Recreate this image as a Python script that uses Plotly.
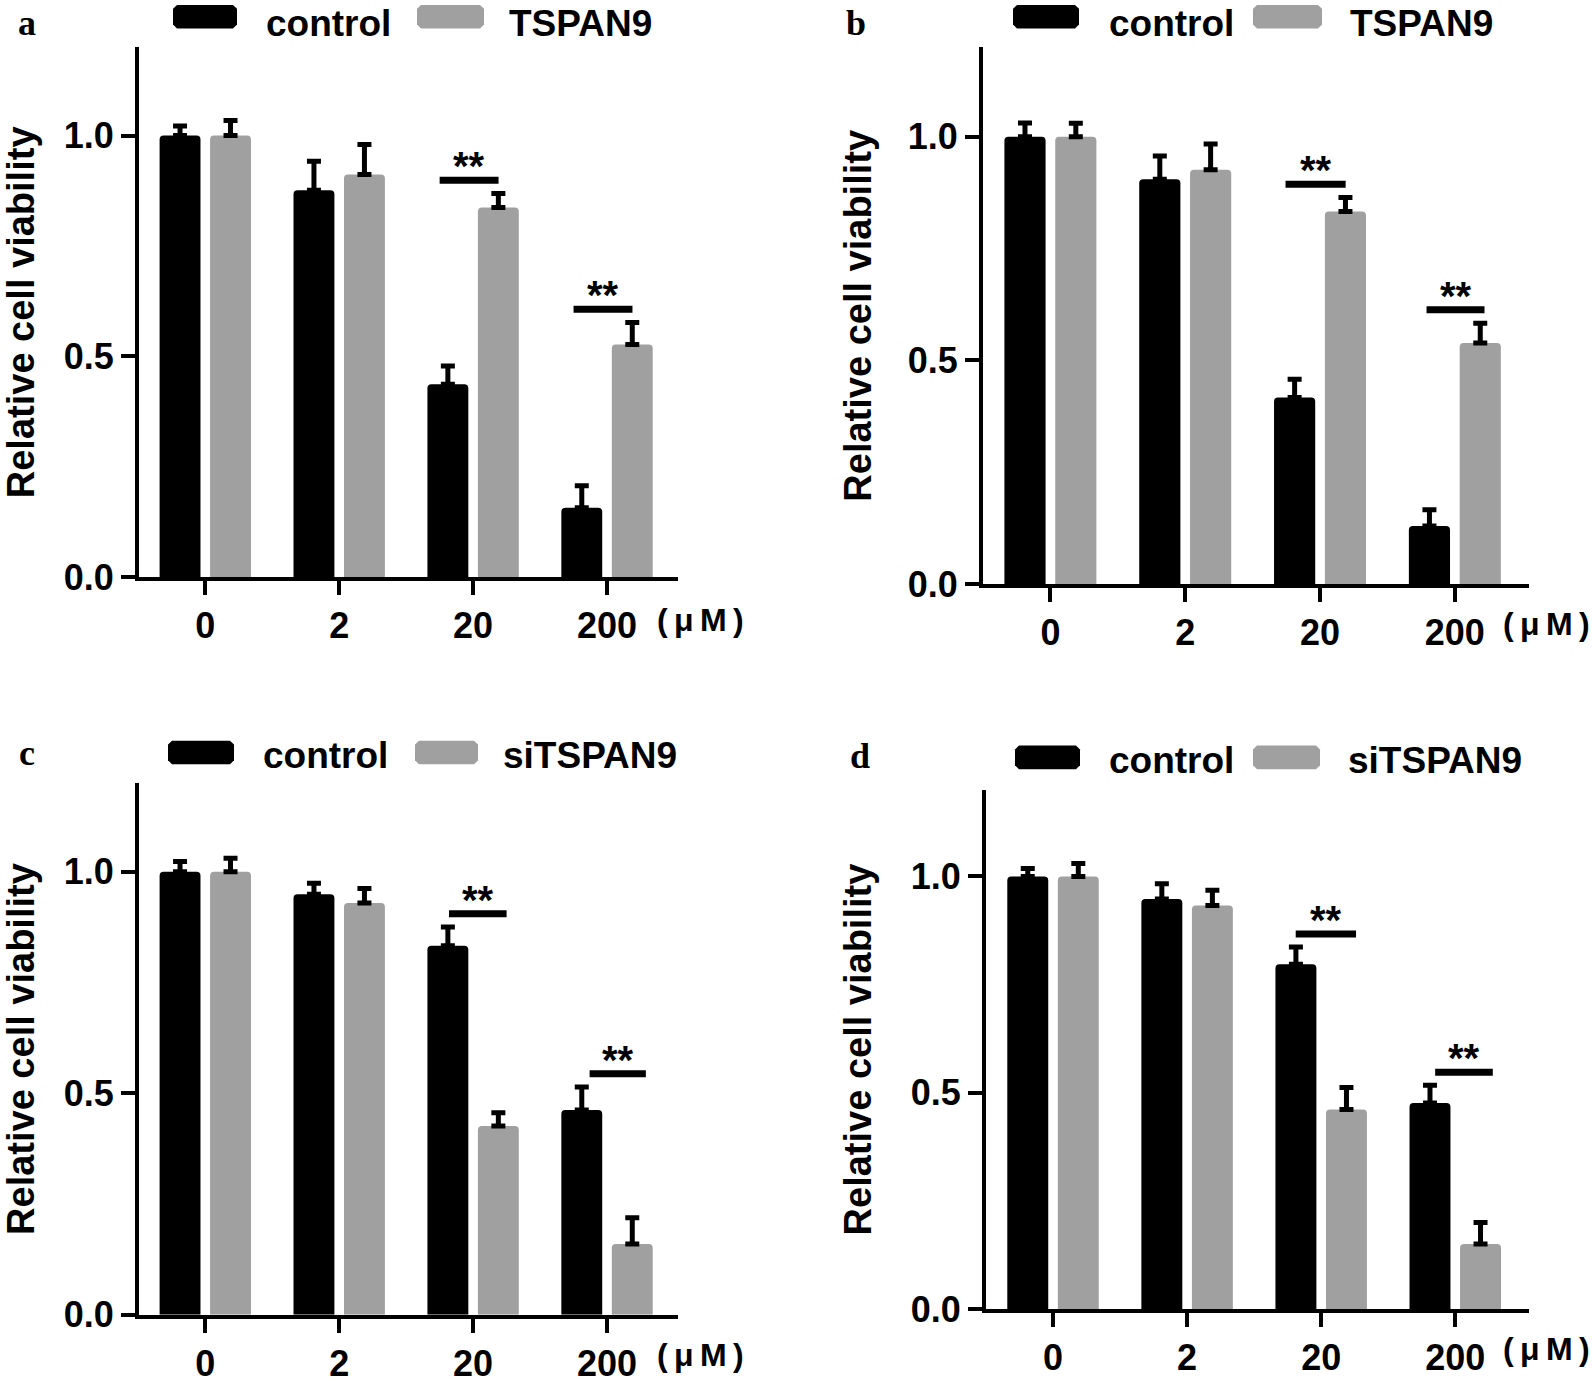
import plotly.graph_objects as go

W, H = 1595, 1392

# ---------------- data ----------------
doses = ["0", "2", "20", "200"]
ytick_vals = [0.0, 0.5, 1.0]
ytick_text = ["0.0", "0.5", "1.0"]

a_control = [1.00, 0.876, 0.437, 0.157]
a_control_err = [0.022, 0.066, 0.041, 0.050]
a_tspan9 = [1.00, 0.912, 0.837, 0.527]
a_tspan9_err = [0.034, 0.068, 0.032, 0.050]

b_control = [1.00, 0.905, 0.417, 0.130]
b_control_err = [0.031, 0.052, 0.041, 0.036]
b_tspan9 = [1.00, 0.926, 0.833, 0.539]
b_tspan9_err = [0.030, 0.058, 0.031, 0.044]

c_control = [1.00, 0.949, 0.833, 0.462]
c_control_err = [0.023, 0.025, 0.042, 0.052]
c_sitspan9 = [1.00, 0.929, 0.426, 0.160]
c_sitspan9_err = [0.030, 0.033, 0.030, 0.059]

d_control = [1.00, 0.948, 0.797, 0.476]
d_control_err = [0.018, 0.035, 0.040, 0.041]
d_sitspan9 = [1.00, 0.933, 0.461, 0.150]
d_sitspan9_err = [0.030, 0.035, 0.051, 0.050]

sig_index = [2, 3]          # doses marked with **
sig_label = "**"

panel_letters = ["a", "b", "c", "d"]
series_names = [("control", "TSPAN9"), ("control", "TSPAN9"),
                ("control", "siTSPAN9"), ("control", "siTSPAN9")]
y_title = "Relative cell viability"
unit_label = "(\u2009\u03bc\u2009M\u2009)"

# ---------------- style / layout ----------------
BLACK = "#000000"
GRAY = "#A0A0A0"
FONT = "Liberation Sans"

panels = [
    dict(data=(a_control, a_control_err, a_tspan9, a_tspan9_err),
         xpx=(139, 678), ypx=(48, 586), xr=(-0.495, 3.53),
         sigx=[(-0.25, 0.19), (-0.25, 0.19)],
         letter=(27, 1), legend=(173, 237, 264, 417, 484, 507, 17, 1),
         unit=(746, 630), ytitle=(21,)),
    dict(data=(b_control, b_control_err, b_tspan9, b_tspan9_err),
         xpx=(983, 1529), ypx=(48, 593), xr=(-0.5, 3.55),
         sigx=[(-0.256, 0.19), (-0.21, 0.22)],
         letter=(856, 1), legend=(1013, 1079, 1107, 1253, 1322, 1348, 17, 1),
         unit=(1592, 634), ytitle=(858,)),
    dict(data=(c_control, c_control_err, c_sitspan9, c_sitspan9_err),
         xpx=(139, 678), ypx=(795, 1335), xr=(-0.495, 3.53),
         sigx=[(-0.18, 0.25), (-0.13, 0.29)],
         letter=(27, 742), legend=(168, 234, 261, 415, 478, 501, 764, 744),
         unit=(746, 1376), ytitle=(21,)),
    dict(data=(d_control, d_control_err, d_sitspan9, d_sitspan9_err),
         xpx=(986, 1529), ypx=(802, 1329), xr=(-0.5, 3.55),
         sigx=[(-0.19, 0.26), (-0.15, 0.28)],
         letter=(860, 745), legend=(1015, 1080, 1107, 1253, 1320, 1346, 769, 749),
         unit=(1592, 1370), ytitle=(858,)),
]


def PX(x):
    return x / W


def PY(y):
    return 1 - y / H


fig = go.Figure()
shapes = []
annotations = []
xpos = list(range(len(doses)))

for i, p in enumerate(panels):
    n = "" if i == 0 else str(i + 1)
    xa, ya = "x" + n, "y" + n
    ctrl, ctrl_err, trt, trt_err = p["data"]
    name1, name2 = series_names[i]
    for vals, errs, col, nm in ((ctrl, ctrl_err, BLACK, name1),
                                (trt, trt_err, GRAY, name2)):
        fig.add_trace(go.Bar(
            x=xpos, y=vals, name=nm, xaxis=xa, yaxis=ya,
            marker=dict(color=col, line=dict(width=0), cornerradius=4),
            error_y=dict(type="data", symmetric=False, array=errs,
                         arrayminus=[0] * len(errs), color=BLACK,
                         thickness=5, width=7),
            showlegend=False, offsetgroup=nm + str(i),
        ))

    x0, x1 = p["xpx"]
    y0, y1 = p["ypx"]
    fig.layout["xaxis" + n] = dict(
        domain=[PX(x0), PX(x1)], anchor=ya, range=list(p["xr"]),
        tickvals=xpos, ticktext=doses, showline=True, linewidth=4,
        linecolor=BLACK, ticks="outside", ticklen=14, tickwidth=4,
        tickcolor=BLACK, showgrid=False, zeroline=False, fixedrange=True,
        tickfont=dict(family=FONT, size=36, color=BLACK, weight="bold"),
    )
    fig.layout["yaxis" + n] = dict(
        domain=[PY(y1), PY(y0)], anchor=xa, range=[0, 1.2],
        tickvals=ytick_vals, ticktext=ytick_text, showline=True,
        linewidth=4, linecolor=BLACK, ticks="outside", ticklen=14,
        tickwidth=4, tickcolor=BLACK, showgrid=False, zeroline=False,
        fixedrange=True,
        tickfont=dict(family=FONT, size=36, color=BLACK, weight="bold"),
    )

    # significance bars
    for k, idx in enumerate(sig_index):
        top = max(ctrl[idx] + ctrl_err[idx], trt[idx] + trt_err[idx])
        ly = top + 0.03
        lx0, lx1 = p["sigx"][k]
        shapes.append(dict(type="line", xref=xa, yref=ya,
                           x0=idx + lx0, x1=idx + lx1, y0=ly, y1=ly,
                           line=dict(color=BLACK, width=7)))
        annotations.append(dict(xref=xa, yref=ya, x=idx + (lx0 + lx1) / 2,
                                y=ly, text=sig_label, showarrow=False,
                                xanchor="center", yanchor="bottom", yshift=-10,
                                font=dict(family=FONT, size=40, color=BLACK,
                                          weight="bold")))

    # panel letter
    lx, ly = p["letter"]
    annotations.append(dict(xref="paper", yref="paper", x=PX(lx), y=PY(ly),
                            text=panel_letters[i], showarrow=False,
                            xanchor="center", yanchor="top",
                            font=dict(family="Liberation Serif", size=36,
                                      color=BLACK, weight="bold")))

    # legend swatches + labels
    bx0, bx1, tx1, gx0, gx1, tx2, cy, ty = p["legend"]
    for sx0, sx1, col in ((bx0, bx1, BLACK), (gx0, gx1, GRAY)):
        c = 4
        t, b = cy - 12, cy + 12
        path = (f"M {PX(sx0 + c)} {PY(t)} L {PX(sx1 - c)} {PY(t)} "
                f"L {PX(sx1)} {PY(t + c)} L {PX(sx1)} {PY(b - c)} "
                f"L {PX(sx1 - c)} {PY(b)} L {PX(sx0 + c)} {PY(b)} "
                f"L {PX(sx0)} {PY(b - c)} L {PX(sx0)} {PY(t + c)} Z")
        shapes.append(dict(type="path", xref="paper", yref="paper",
                           path=path, fillcolor=col, line=dict(width=0)))
    for tx, txt in ((tx1, name1), (tx2, name2)):
        annotations.append(dict(xref="paper", yref="paper", x=PX(tx),
                                y=PY(ty), text=txt, showarrow=False,
                                xanchor="left", yanchor="top",
                                font=dict(family=FONT, size=37, color=BLACK,
                                          weight="bold")))

    # unit label
    ux, uy = p["unit"]
    annotations.append(dict(xref="paper", yref="paper", x=PX(ux), y=PY(uy),
                            text=unit_label, showarrow=False,
                            xanchor="right", yanchor="middle",
                            font=dict(family=FONT, size=32, color=BLACK,
                                      weight="bold")))

    # y-axis title
    annotations.append(dict(xref="paper", yref="paper", x=PX(p["ytitle"][0]),
                            y=PY((y0 + y1) / 2), text=y_title,
                            showarrow=False, textangle=-90,
                            xanchor="center", yanchor="middle",
                            font=dict(family=FONT, size=38, color=BLACK,
                                      weight="bold")))

fig.update_layout(
    width=W, height=H, margin=dict(l=0, r=0, t=0, b=0),
    paper_bgcolor="white", plot_bgcolor="white",
    barmode="group", bargap=0.246, bargroupgap=0.19,
    shapes=shapes, annotations=annotations, hovermode=False,
)

fig.write_html("out.html",
               config={"displayModeBar": False, "staticPlot": True},
               post_script="document.body.style.margin='0';"
                           "document.body.style.overflow='hidden';")
